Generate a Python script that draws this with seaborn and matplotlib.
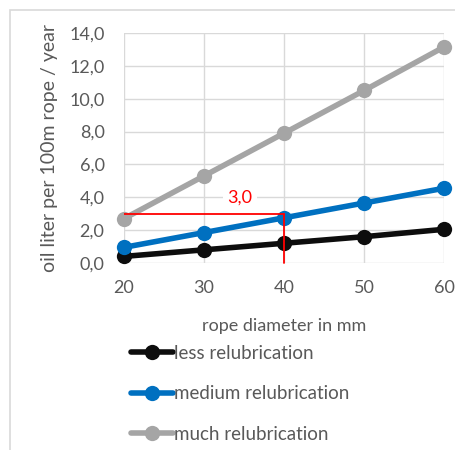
import numpy as np
import pandas as pd
import matplotlib
matplotlib.use("Agg")
import matplotlib.pyplot as plt
from matplotlib.ticker import FuncFormatter
from matplotlib.patches import Rectangle
import seaborn as sns

# data
diameters = [20, 30, 40, 50, 60]
less_relub = [0.4, 0.8, 1.2, 1.6, 2.05]
medium_relub = [0.95, 1.85, 2.75, 3.65, 4.55]
much_relub = [2.7, 5.3, 7.9, 10.5, 13.15]
series_names = ["less relubrication", "medium relubrication", "much relubrication"]
series_colors = ["#0d0d0d", "#0070c0", "#a5a5a5"]

# red reference marker (40 mm -> 3,0)
ref_start = 20
ref_diameter = 40
ref_value = 3.0
ref_label = "3,0"

df = pd.DataFrame({
    "diameter": diameters * 3,
    "oil": less_relub + medium_relub + much_relub,
    "series": [series_names[0]] * 5 + [series_names[1]] * 5 + [series_names[2]] * 5,
})

sns.set_style("white")
plt.rcParams["font.family"] = ["Lato", "DejaVu Sans"]
grey_txt = "#595959"

fig = plt.figure(figsize=(4.55, 4.5), dpi=100)
ax = fig.add_axes([0.2725, 0.4156, 0.7035, 0.5111])

# outer chart frame
fig.add_artist(Rectangle((10 / 455, -0.01), 1.0, 1 - 10 / 450 + 0.01,
                         transform=fig.transFigure, fill=False,
                         edgecolor="#d9d9d9", linewidth=1.2))

sns.lineplot(data=df, x="diameter", y="oil", hue="series", palette=series_colors,
             hue_order=series_names, marker="o", markersize=11, markeredgewidth=0,
             linewidth=4, ax=ax, zorder=3, clip_on=False)

# red guide lines and label
ax.plot([ref_start, ref_diameter], [ref_value, ref_value], color="red", lw=1.3, zorder=4)
ax.plot([ref_diameter, ref_diameter], [ref_value, 0], color="red", lw=1.3, zorder=4,
        clip_on=False)
ax.text(34.5, 3.95, ref_label, color="red", fontsize=13, ha="center", va="center",
        bbox=dict(facecolor="white", edgecolor="none", pad=3), zorder=5)

ax.set_xlim(20, 60)
ax.set_ylim(0, 14)
ax.set_xticks(diameters)
ax.set_yticks(np.arange(0, 15, 2))
ax.yaxis.set_major_formatter(FuncFormatter(lambda v, p: f"{v:.1f}".replace(".", ",")))
ax.grid(True, color="#d9d9d9", linewidth=1)
for s in ax.spines.values():
    s.set_visible(False)
ax.tick_params(axis="both", colors=grey_txt, labelsize=13, length=0)
ax.tick_params(axis="x", pad=12)
ax.tick_params(axis="y", pad=14)
ax.set_xlabel("rope diameter in mm", color=grey_txt, fontsize=13, labelpad=16)
ax.set_ylabel("oil liter per 100m rope / year", color=grey_txt, fontsize=14, labelpad=8)

handles, labels = ax.get_legend_handles_labels()
leg = ax.legend(handles, labels, loc="upper left", bbox_to_anchor=(0.272, 0.25),
                bbox_transform=fig.transFigure, frameon=False, fontsize=13.5,
                handlelength=2.2, handletextpad=0.1, labelspacing=1.25,
                borderaxespad=0)
for t in leg.get_texts():
    t.set_color(grey_txt)

fig.savefig("out.png", dpi=100)
